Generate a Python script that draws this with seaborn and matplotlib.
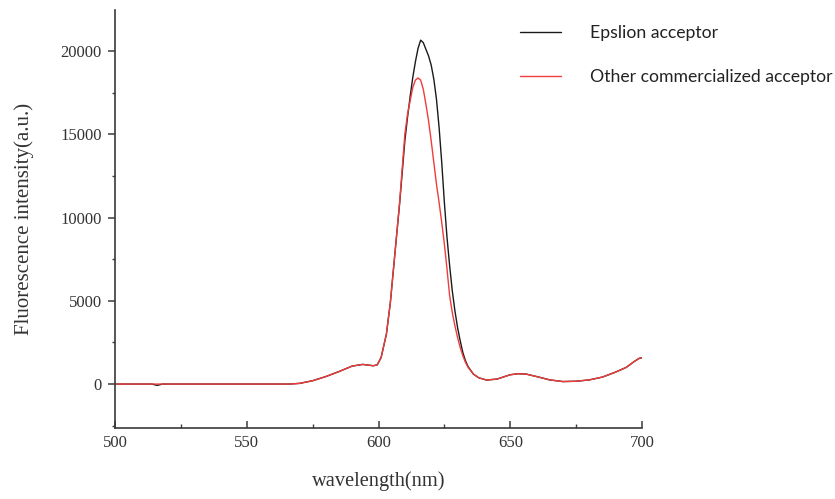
import pandas as pd
import seaborn as sns
import matplotlib.pyplot as plt

# wavelength grid (nm)
wavelength = [500, 510, 514, 516, 518, 530, 540, 550, 560, 566, 570, 575, 580, 585,
              590, 594, 598, 599.5, 601, 603, 604.5, 606.5, 608, 610, 611, 612, 613,
              614, 615, 616, 617, 618, 619, 620, 621, 622, 623, 624, 625, 626, 627,
              628, 629, 630, 631, 632, 633, 634, 636, 638, 641, 645, 650, 653, 656,
              660, 665, 670, 675, 680, 685, 690, 694, 697, 699, 700]

epsilon = [0, 0, 0, -80, 0, 0, 0, 0, 0, 0, 40, 200, 450, 750,
           1080, 1180, 1100, 1150, 1600, 3000, 4900, 8300, 10800, 14600, 16000, 17250, 18400,
           19350, 20150, 20650, 20500, 20100, 19700, 19150, 18300, 17100, 15400, 13300, 10900, 8800, 7100,
           5600, 4400, 3400, 2600, 1900, 1400, 1050, 600, 380, 240, 300, 560, 620, 600,
           450, 250, 150, 170, 250, 420, 720, 1000, 1350, 1550, 1580]

other = [0, 0, 0, 0, 0, 0, 0, 0, 0, 0, 40, 200, 450, 750,
         1080, 1180, 1100, 1150, 1600, 3000, 4900, 8300, 10900, 15000, 16200, 17000, 17800,
         18250, 18380, 18250, 17700, 16800, 15800, 14600, 13300, 12000, 10900, 9700, 8400, 6900, 5300,
         4300, 3500, 2800, 2200, 1700, 1300, 1000, 600, 380, 240, 300, 560, 620, 600,
         450, 250, 150, 170, 250, 420, 720, 1000, 1350, 1550, 1580]

labels = ["Epslion acceptor", "Other commercialized acceptor"]

df = pd.DataFrame({"wavelength": wavelength, labels[0]: epsilon, labels[1]: other})
df_long = df.melt(id_vars=["wavelength"], var_name="sample", value_name="intensity")

sns.set_style("ticks")
plt.rcParams["font.family"] = ["Liberation Serif", "DejaVu Serif"]

fig = plt.figure(figsize=(8.35, 4.99), dpi=100)
ax = fig.add_axes([115 / 835, 1 - 427.7 / 499, (642 - 115) / 835, (427.7 - 10) / 499])

sns.lineplot(data=df_long, x="wavelength", y="intensity", hue="sample",
             palette={labels[0]: "#1a1a1a", labels[1]: "#f03c3c"},
             linewidth=1.0, ax=ax, legend=False)

ax.set_xlim(500, 700)
ax.set_ylim(-2620, 22460)
ax.set_xticks([500, 550, 600, 650, 700])
ax.set_xticks([525, 575, 625, 675], minor=True)
ax.set_yticks([0, 5000, 10000, 15000, 20000])
ax.set_yticks([-2500, 2500, 7500, 12500, 17500], minor=True)

sns.despine(ax=ax)
for s in ["left", "bottom"]:
    ax.spines[s].set_color("#3a3a3a")
    ax.spines[s].set_linewidth(1.2)

ax.tick_params(axis="x", which="major", direction="in", length=5, width=1.1,
               color="#3a3a3a", labelsize=12, labelcolor="#333333", pad=5)
ax.tick_params(axis="x", which="minor", direction="in", length=3, width=1.0, color="#3a3a3a")
ax.tick_params(axis="y", which="major", direction="out", length=5, width=1.1,
               color="#3a3a3a", labelsize=12, labelcolor="#333333", pad=4.5)
ax.tick_params(axis="y", which="minor", direction="out", length=2, width=1.0, color="#3a3a3a")

ax.set_xlabel("wavelength(nm)", fontsize=14.7, color="#333333", labelpad=15)
ax.set_ylabel("Fluorescence intensity(a.u.)", fontsize=15, color="#333333", labelpad=19)

handles = [plt.Line2D([], [], color="#1a1a1a", lw=1.0),
           plt.Line2D([], [], color="#f03c3c", lw=1.0)]
fig.legend(handles, labels, loc="upper left", bbox_to_anchor=(520 / 835, 1 - 25 / 499),
           frameon=False, borderpad=0, borderaxespad=0, handlelength=2.3,
           handletextpad=1.65, labelspacing=1.6,
           prop={"family": ["Lato", "DejaVu Sans"], "size": 12.7}, labelcolor="#222222")

fig.savefig("out.png", dpi=100)
